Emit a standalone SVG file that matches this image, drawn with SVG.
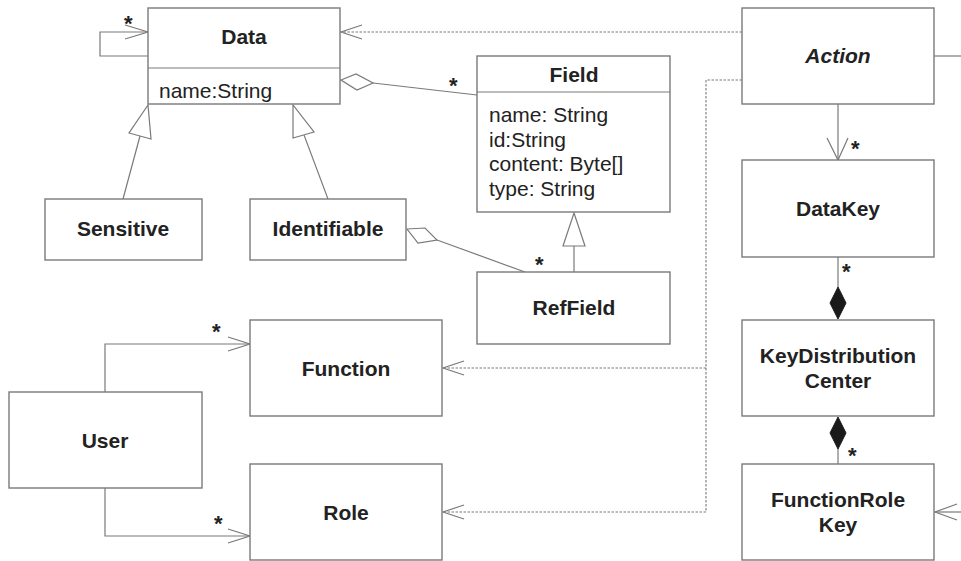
<svg xmlns="http://www.w3.org/2000/svg" width="961" height="561" viewBox="0 0 961 561">
<style>
.box{fill:#fff;stroke:#7a7a7a;stroke-width:1.4}
.ln{fill:none;stroke:#7a7a7a;stroke-width:1.2}
.dot{fill:none;stroke:#7a7a7a;stroke-width:1.1;stroke-dasharray:2.5,1.5}
.hol{fill:#fff;stroke:#7a7a7a;stroke-width:1.2}
.fill{fill:#1a1a1a;stroke:#1a1a1a;stroke-width:1}
.t{font-family:"Liberation Sans",Arial,sans-serif;font-size:21px;font-weight:bold;fill:#222;text-anchor:middle}
.a{font-family:"Liberation Sans",Arial,sans-serif;font-size:21px;fill:#222}
.m{font-family:"Liberation Sans",Arial,sans-serif;font-size:22px;font-weight:bold;fill:#222}
</style>
<rect width="961" height="561" fill="#fff"/>
<g id="connectors">
  <!-- Data self loop -->
  <polyline class="ln" points="148,56 100,56 100,32 148,32"/>
  <polyline class="ln" points="125,25 148,32 125,39"/>
  <text class="m" x="124" y="31">*</text>
  <!-- Action -> Data dotted -->
  <line class="dot" x1="742" y1="32" x2="341" y2="32"/>
  <polyline class="ln" points="362,25 341,32 362,39"/>
  <!-- Data <> Field -->
  <line class="ln" x1="373" y1="83" x2="477" y2="95"/>
  <polygon class="hol" points="341,80 356,74 373,83 357,90"/>
  <text class="m" x="449" y="93">*</text>
  <!-- Sensitive -> Data generalization -->
  <line class="ln" x1="123" y1="199" x2="140" y2="136"/>
  <polygon class="hol" points="148,105 129,133 151,139"/>
  <!-- Identifiable -> Data generalization -->
  <line class="ln" x1="328" y1="199" x2="304" y2="135"/>
  <polygon class="hol" points="293,105 293,138 314,132"/>
  <!-- Identifiable <> RefField -->
  <line class="ln" x1="437" y1="240" x2="525" y2="272"/>
  <polygon class="hol" points="407,229 425,228 437,240 418,243"/>
  <text class="m" x="535" y="272">*</text>
  <!-- RefField -> Field generalization -->
  <line class="ln" x1="574" y1="272" x2="574" y2="246"/>
  <polygon class="hol" points="574,213 563,246 585,246"/>
  <!-- Action -> DataKey -->
  <line class="ln" x1="838" y1="104" x2="838" y2="160"/>
  <polyline class="ln" points="827,138 838,160 848,138"/>
  <text class="m" x="851" y="156">*</text>
  <!-- DataKey - KDC composition -->
  <line class="ln" x1="838" y1="257" x2="838" y2="287"/>
  <polygon class="fill" points="838,287 846,303 838,319 830,303"/>
  <text class="m" x="842" y="279">*</text>
  <!-- KDC - FunctionRoleKey composition -->
  <polygon class="fill" points="838,417 846,433 838,449 830,433"/>
  <line class="ln" x1="838" y1="449" x2="838" y2="464"/>
  <text class="m" x="848" y="463">*</text>
  <!-- Action right stub -->
  <line class="ln" x1="934" y1="56" x2="961" y2="56"/>
  <!-- FunctionRoleKey right arrow -->
  <line class="ln" x1="935" y1="512" x2="961" y2="512"/>
  <polyline class="ln" points="957,504 935,512 957,520"/>
  <!-- Action -> Function / Role dotted -->
  <polyline class="dot" points="742,80 706,80 706,512 443,512"/>
  <line class="dot" x1="706" y1="368" x2="443" y2="368"/>
  <polyline class="ln" points="464,361 443,368 464,375"/>
  <polyline class="ln" points="464,505 443,512 464,519"/>
  <!-- User -> Function -->
  <polyline class="ln" points="105,392 105,344 250,344"/>
  <polyline class="ln" points="228,337 250,344 228,351"/>
  <text class="m" x="212" y="339">*</text>
  <!-- User -> Role -->
  <polyline class="ln" points="105,488 105,536 250,536"/>
  <polyline class="ln" points="228,529 250,536 228,543"/>
  <text class="m" x="214" y="531">*</text>
</g>
<g id="Data">
  <rect class="box" x="148" y="8" width="192" height="96"/>
  <line class="ln" x1="148" y1="68" x2="340" y2="68"/>
  <text class="t" x="244" y="44">Data</text>
  <text class="a" x="159" y="98">name:String</text>
</g>
<g id="Field">
  <rect class="box" x="477" y="56" width="193" height="156"/>
  <line class="ln" x1="477" y1="92" x2="670" y2="92"/>
  <text class="t" x="574" y="82">Field</text>
  <text class="a" x="489" y="122">name: String</text>
  <text class="a" x="489" y="147">id:String</text>
  <text class="a" x="489" y="171">content: Byte[]</text>
  <text class="a" x="489" y="196">type: String</text>
</g>
<g id="Action">
  <rect class="box" x="742" y="8" width="192" height="96"/>
  <text class="t" x="838" y="63" font-style="italic">Action</text>
</g>
<g id="Sensitive">
  <rect class="box" x="45" y="199" width="157" height="61"/>
  <text class="t" x="123" y="236">Sensitive</text>
</g>
<g id="Identifiable">
  <rect class="box" x="250" y="199" width="156" height="61"/>
  <text class="t" x="328" y="236">Identifiable</text>
</g>
<g id="DataKey">
  <rect class="box" x="742" y="160" width="192" height="97"/>
  <text class="t" x="838" y="216">DataKey</text>
</g>
<g id="RefField">
  <rect class="box" x="477" y="272" width="193" height="72"/>
  <text class="t" x="574" y="315">RefField</text>
</g>
<g id="KeyDistributionCenter">
  <rect class="box" x="742" y="320" width="192" height="96"/>
  <text class="t" x="838" y="363">KeyDistribution</text>
  <text class="t" x="838" y="388">Center</text>
</g>
<g id="Function">
  <rect class="box" x="250" y="320" width="192" height="96"/>
  <text class="t" x="346" y="376">Function</text>
</g>
<g id="User">
  <rect class="box" x="9" y="392" width="193" height="96"/>
  <text class="t" x="105" y="448">User</text>
</g>
<g id="Role">
  <rect class="box" x="250" y="464" width="192" height="96"/>
  <text class="t" x="346" y="520">Role</text>
</g>
<g id="FunctionRoleKey">
  <rect class="box" x="742" y="464" width="192" height="96"/>
  <text class="t" x="838" y="507">FunctionRole</text>
  <text class="t" x="838" y="532">Key</text>
</g>
</svg>
